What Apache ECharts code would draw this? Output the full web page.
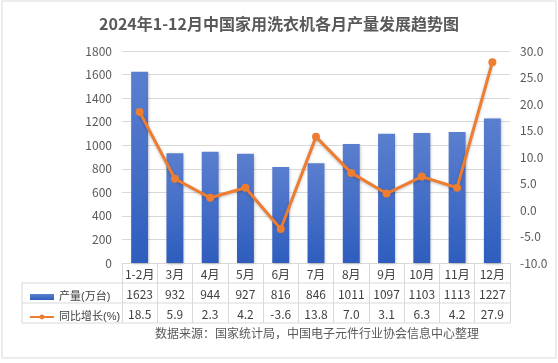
<!DOCTYPE html>
<html><head><meta charset="utf-8">
<script src="https://cdn.jsdelivr.net/npm/echarts@6/dist/echarts.min.js"></script>
<style>html,body{margin:0;padding:0;background:#fff}#c{width:558px;height:363px}</style>
</head><body><div id="c"></div>
<script>
const categories = ['1-2月','3月','4月','5月','6月','7月','8月','9月','10月','11月','12月'];
const production = [1623,932,944,927,816,846,1011,1097,1103,1113,1227];
const yoyGrowth = [18.5,5.9,2.3,4.2,-3.6,13.8,7.0,3.1,6.3,4.2,27.9];
const titleText = '2024年1-12月中国家用洗衣机各月产量发展趋势图';
const sourceText = '数据来源：国家统计局，中国电子元件行业协会信息中心整理';
const seriesNames = ['产量(万台)','同比增长(%)'];

const font = '"Noto Sans CJK SC","Liberation Sans",sans-serif';
const gridL = 122, gridR = 510, gridT = 51, gridB = 263;
const tableLine = '#D9D9D9';
const chart = echarts.init(document.getElementById('c'));
chart.setOption({
  animation:false,
  textStyle:{fontFamily:font},
  title:{text:titleText,left:'center',top:11,textStyle:{fontSize:16,fontWeight:'bold',color:'#595959',fontFamily:font}},
  grid:{left:gridL,right:558-gridR,top:gridT,bottom:363-gridB},
  legend:{orient:'vertical',left:24,top:285,itemGap:6,itemWidth:24,itemHeight:6,
    textStyle:{fontSize:11,lineHeight:14,color:'#404040',fontFamily:'"Liberation Sans","Noto Sans CJK SC",sans-serif'},
    data:[{name:seriesNames[0],icon:'rect'},{name:seriesNames[1]}]},
  xAxis:{type:'category',data:categories,
    axisLine:{lineStyle:{color:tableLine}},
    axisTick:{show:true,length:60,interval:0,lineStyle:{color:tableLine}},
    axisLabel:{interval:0,margin:1,lineHeight:20,fontSize:12,color:'#404040',fontFamily:font,
      formatter:(v,i)=> v+'\n'+production[i]+'\n'+yoyGrowth[i].toFixed(1)}},
  yAxis:[
    {type:'value',min:0,max:1800,interval:200,
     axisLabel:{color:'#595959',fontSize:12,margin:10,formatter:v=>String(v)},
     axisLine:{show:false},axisTick:{show:false},
     splitLine:{lineStyle:{color:'#D9D9D9'}}},
    {type:'value',min:-10,max:30,interval:5,
     axisLabel:{color:'#595959',fontSize:12,margin:10,formatter:v=>v.toFixed(1)},
     axisLine:{show:false},axisTick:{show:false},splitLine:{show:false}}
  ],
  series:[
    {name:seriesNames[0],type:'bar',data:production,barWidth:'48%',
     itemStyle:{color:new echarts.graphic.LinearGradient(0,0,0,1,[{offset:0,color:'#5B7FCF'},{offset:1,color:'#2E5DBE'}]),
       shadowColor:'rgba(0,0,0,0.25)',shadowBlur:3,shadowOffsetX:1,shadowOffsetY:1}},
    {name:seriesNames[1],type:'line',yAxisIndex:1,data:yoyGrowth,symbol:'circle',symbolSize:8,
     lineStyle:{color:'#ED7D31',width:3,shadowColor:'rgba(0,0,0,0.25)',shadowBlur:3,shadowOffsetY:1},
     itemStyle:{color:'#ED7D31'}}
  ],
  graphic:[
    {type:'rect',shape:{x:2,y:1,width:554,height:357},style:{fill:null,stroke:'#D9D9D9',lineWidth:1},silent:true,z:-1},
    {type:'line',shape:{x1:22,y1:283,x2:gridR,y2:283},style:{stroke:tableLine,lineWidth:1}},
    {type:'line',shape:{x1:22,y1:303,x2:gridR,y2:303},style:{stroke:tableLine,lineWidth:1}},
    {type:'line',shape:{x1:22,y1:323,x2:gridR,y2:323},style:{stroke:tableLine,lineWidth:1}},
    {type:'line',shape:{x1:22,y1:283,x2:22,y2:323},style:{stroke:tableLine,lineWidth:1}},
    {type:'text',left:155,top:327,style:{text:sourceText,fill:'#595959',font:'12px '+font}}
  ]
});
</script></body></html>
